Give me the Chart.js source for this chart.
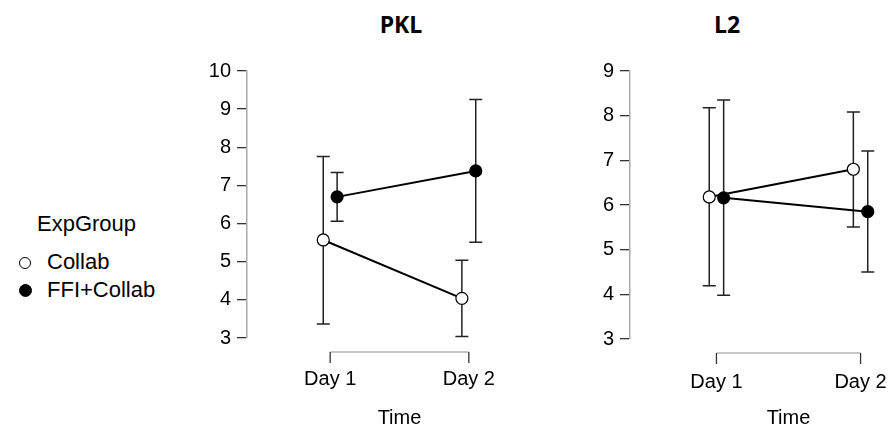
<!DOCTYPE html>
<html>
<head>
<meta charset="utf-8">
<script src="https://cdn.jsdelivr.net/npm/chart.js@4"></script>
<style>
  body { margin: 0; background: #fff; }
  #wrap { position: relative; width: 889px; height: 432px; overflow: hidden; background: #fff; }
  canvas { position: absolute; top: 0; }
  .panel-title { position: absolute; top: 8px; font: 700 23px "Open Sans", sans-serif; transform: translateX(-50%); color: #000; }
  .legend { position: absolute; left: 0; top: 0; font: 22px "Liberation Sans", Arial, sans-serif; color: #000; }
  .legend div { position: absolute; white-space: nowrap; line-height: 24px; }
  .dot { position: absolute; border-radius: 50%; box-sizing: border-box; border: 1.2px solid #000; }
</style>
</head>
<body>
<div id="wrap">
  <div class="panel-title" style="left:401px">PKL</div>
  <div class="panel-title" style="left:727px">L2</div>

  <div class="legend">
    <div style="left:37px; top:212px">ExpGroup</div>
    <span class="dot" style="left:19px; top:257px; width:12px; height:12px; background:#fff"></span>
    <div style="left:47px; top:250px">Collab</div>
    <span class="dot" style="left:19px; top:284px; width:13px; height:13px; background:#000"></span>
    <div style="left:47px; top:278px">FFI+Collab</div>
  </div>

  <canvas id="pkl" width="372" height="432" style="left:180px"></canvas>
  <canvas id="l2" width="387" height="432" style="left:560px"></canvas>
</div>

<script>
const days = ['Day 1', 'Day 2'];
const groups = ['Collab', 'FFI+Collab'];

// PKL means and interval bounds per day
const pklCollab = [5.57, 4.04];
const pklCollabLo = [3.37, 3.04];
const pklCollabHi = [7.76, 5.04];
const pklFfi = [6.70, 7.38];
const pklFfiLo = [6.06, 5.51];
const pklFfiHi = [7.34, 9.25];

// L2 means and interval bounds per day
const l2Collab = [6.18, 6.80];
const l2CollabLo = [4.19, 5.51];
const l2CollabHi = [8.18, 8.08];
const l2Ffi = [6.16, 5.85];
const l2FfiLo = [3.98, 4.50];
const l2FfiHi = [8.35, 7.21];

const dodge = [-0.05, 0.05];
const axisFont = { family: '"Liberation Sans", Arial, sans-serif', size: 20 };

// whiskers with caps, drawn under the lines and points
const errorBars = {
  id: 'errorBars',
  beforeDatasetsDraw(chart) {
    const ctx = chart.ctx;
    const y = chart.scales.y;
    ctx.save();
    ctx.strokeStyle = '#222';
    ctx.lineWidth = 1.5;
    chart.data.datasets.forEach((ds, di) => {
      const meta = chart.getDatasetMeta(di);
      meta.data.forEach((pt, i) => {
        const top = y.getPixelForValue(ds.errHi[i]);
        const bot = y.getPixelForValue(ds.errLo[i]);
        ctx.beginPath();
        ctx.moveTo(pt.x, top); ctx.lineTo(pt.x, bot);
        ctx.moveTo(pt.x - 6.5, top); ctx.lineTo(pt.x + 6.5, top);
        ctx.moveTo(pt.x - 6.5, bot); ctx.lineTo(pt.x + 6.5, bot);
        ctx.stroke();
      });
    });
    ctx.restore();
  }
};

// detached x axis: a line spanning the days, ticks hanging below it
const dayAxis = {
  id: 'dayAxis',
  afterDraw(chart) {
    const ctx = chart.ctx;
    const x = chart.scales.x;
    const yLine = chart.chartArea.bottom + 14;
    const x1 = x.getPixelForValue(1);
    const x2 = x.getPixelForValue(days.length);
    ctx.save();
    ctx.strokeStyle = '#b4b4b4';
    ctx.lineWidth = 1.5;
    ctx.beginPath();
    ctx.moveTo(x1, yLine); ctx.lineTo(x2, yLine);
    ctx.stroke();
    ctx.strokeStyle = '#333';
    ctx.lineWidth = 1.3;
    ctx.beginPath();
    days.forEach((d, i) => {
      const px = x.getPixelForValue(i + 1);
      ctx.moveTo(px, yLine); ctx.lineTo(px, yLine + 11);
    });
    ctx.stroke();
    ctx.restore();
  }
};

function series(label, means, lo, hi, gi) {
  return {
    label: label,
    data: means.map((v, i) => ({ x: i + 1 + dodge[gi], y: v })),
    errLo: lo,
    errHi: hi,
    showLine: true,
    borderColor: '#000',
    borderWidth: 2,
    pointRadius: 6,
    pointBorderWidth: 1.2,
    pointBorderColor: '#000',
    pointBackgroundColor: gi === 0 ? '#fff' : '#000'
  };
}

function panel(id, datasets, yMax, padLeft, xHeight, labelGap) {
  return new Chart(document.getElementById(id), {
    type: 'scatter',
    data: { datasets: datasets },
    options: {
      responsive: false,
      animation: false,
      events: [],
      layout: { autoPadding: false, padding: { top: 71, left: padLeft, right: 0, bottom: 0 } },
      plugins: { legend: { display: false }, tooltip: { enabled: false } },
      scales: {
        x: {
          type: 'linear',
          min: 0.4,
          max: 2.6,
          afterBuildTicks: (s) => { s.ticks = days.map((d, i) => ({ value: i + 1 })); },
          afterFit: (s) => { s.height = xHeight; },
          ticks: {
            callback: (v) => days[v - 1],
            font: axisFont,
            color: '#000',
            padding: 0,
            maxRotation: 0
          },
          // hidden tick marks; their length only pushes the labels down
          grid: { display: false, drawTicks: true, tickLength: labelGap },
          border: { display: false },
          title: { display: true, text: 'Time', font: axisFont, color: '#000', padding: { top: 0, bottom: 2 } }
        },
        y: {
          min: 3,
          max: yMax,
          afterFit: (s) => { s.width = 60; },
          ticks: { stepSize: 1, font: axisFont, color: '#000', padding: 6 },
          grid: { drawOnChartArea: false, tickLength: 10, color: '#333', lineWidth: 1.3 },
          border: { color: '#aaa', width: 1.5 }
        }
      }
    },
    plugins: [errorBars, dayAxis]
  });
}

panel('pkl', [
  series(groups[0], pklCollab, pklCollabLo, pklCollabHi, 0),
  series(groups[1], pklFfi, pklFfiLo, pklFfiHi, 1)
], 10, 7, 94, 29);

panel('l2', [
  series(groups[0], l2Collab, l2CollabLo, l2CollabHi, 0),
  series(groups[1], l2Ffi, l2FfiLo, l2FfiHi, 1)
], 9, 10, 93, 31);
</script>
</body>
</html>
